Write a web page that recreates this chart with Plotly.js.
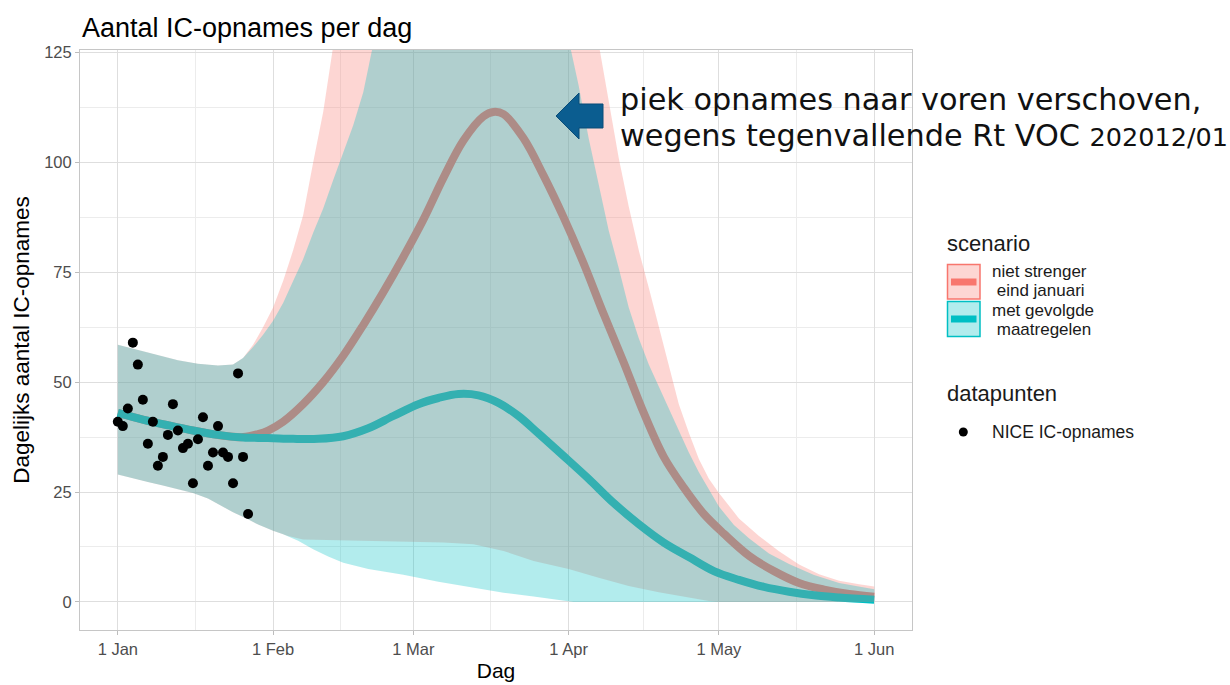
<!DOCTYPE html>
<html>
<head>
<meta charset="utf-8">
<script src="https://cdn.plot.ly/plotly-3.0.1.min.js"></script>
<style>
html,body{margin:0;padding:0;background:#fff;}
#chart{width:1230px;height:685px;}
</style>
</head>
<body>
<div id="chart"></div>
<script>
// ---------------- data ----------------
const pointDates = ['2021-01-01','2021-01-02','2021-01-03','2021-01-04','2021-01-05','2021-01-06','2021-01-07','2021-01-08','2021-01-09','2021-01-10','2021-01-11','2021-01-12','2021-01-13','2021-01-14','2021-01-15','2021-01-16','2021-01-17','2021-01-18','2021-01-19','2021-01-20','2021-01-21','2021-01-22','2021-01-23','2021-01-24','2021-01-25','2021-01-26','2021-01-27'];
const pointValues = [41,40,44,59,54,46,36,41,31,33,38,45,39,35,36,27,37,42,31,34,40,34,33,27,52,33,20];

const tealLineDates = ['2021-01-01','2021-01-06','2021-01-11','2021-01-16','2021-01-21','2021-01-26','2021-01-31','2021-02-05','2021-02-10','2021-02-15','2021-02-20','2021-02-25','2021-03-02','2021-03-06','2021-03-10','2021-03-14','2021-03-18','2021-03-22','2021-03-26','2021-03-31','2021-04-05','2021-04-10','2021-04-15','2021-04-20','2021-04-25','2021-04-30','2021-05-05','2021-05-10','2021-05-15','2021-05-20','2021-05-25','2021-06-01'];
const tealLineValues = [43.0,41.5,40.2,39.0,38.0,37.4,37.3,37.1,37.1,37.7,39.5,42.3,45.0,46.4,47.3,47.0,45.3,42.3,38.3,33.2,28.0,22.5,17.7,13.5,10.2,7.0,5.0,3.4,2.3,1.5,1.0,0.5];

const redLineDates = ['2021-01-01','2021-01-06','2021-01-11','2021-01-16','2021-01-21','2021-01-26','2021-01-29','2021-01-31','2021-02-03','2021-02-07','2021-02-11','2021-02-15','2021-02-19','2021-02-23','2021-02-27','2021-03-03','2021-03-07','2021-03-11','2021-03-15','2021-03-17','2021-03-19','2021-03-23','2021-03-27','2021-03-31','2021-04-04','2021-04-08','2021-04-12','2021-04-16','2021-04-20','2021-04-24','2021-04-28','2021-05-02','2021-05-07','2021-05-12','2021-05-17','2021-05-22','2021-05-27','2021-06-01'];
const redLineValues = [43.0,41.5,40.2,39.0,38.0,37.5,38.2,39.0,41.0,45.0,50.0,56.0,63.0,70.5,78.5,87.0,96.5,105.0,110.5,111.5,111.0,105.5,97.0,87.5,77.0,65.5,54.5,43.0,33.0,26.0,20.0,15.5,10.5,7.0,4.3,2.8,1.8,1.2];

const tealUpperDates = ['2021-01-01','2021-01-05','2021-01-09','2021-01-13','2021-01-17','2021-01-21','2021-01-24','2021-01-26','2021-01-28','2021-01-30','2021-02-01','2021-02-03','2021-02-05','2021-02-07','2021-02-09','2021-02-11','2021-02-13','2021-02-15','2021-02-17','2021-02-19','2021-02-21','2021-02-23','2021-03-30','2021-04-01','2021-04-03','2021-04-05','2021-04-07','2021-04-09','2021-04-11','2021-04-13','2021-04-15','2021-04-17','2021-04-19','2021-04-21','2021-04-23','2021-04-25','2021-04-27','2021-04-29','2021-05-01','2021-05-04','2021-05-07','2021-05-11','2021-05-15','2021-05-20','2021-05-25','2021-06-01'];
const tealUpperValues = [58.5,57.3,56.2,55.0,54.2,53.8,54.0,55.5,58.0,60.8,64.0,68.0,73.0,78.0,84.0,89.5,96.0,102.5,108.5,116.0,127.0,140,140,128.0,117.5,105.5,95.0,84.5,76.0,67.0,60.0,54.0,49.0,44.0,39.2,34.0,29.5,25.5,21.7,17.5,14.5,11.0,8.6,6.1,4.3,2.9];

const redUpperDates = ['2021-01-01','2021-01-05','2021-01-09','2021-01-13','2021-01-17','2021-01-21','2021-01-24','2021-01-26','2021-01-28','2021-01-30','2021-02-01','2021-02-03','2021-02-05','2021-02-07','2021-02-09','2021-02-11','2021-02-13','2021-02-15','2021-04-05','2021-04-07','2021-04-09','2021-04-11','2021-04-13','2021-04-15','2021-04-17','2021-04-19','2021-04-21','2021-04-23','2021-04-25','2021-04-27','2021-04-29','2021-05-01','2021-05-05','2021-05-09','2021-05-13','2021-05-17','2021-05-21','2021-05-25','2021-05-29','2021-06-01'];
const redUpperValues = [58.5,57.3,56.2,55.0,54.2,53.8,54.0,55.5,58.5,62.5,67.0,73.0,80.0,88.0,100.0,111.5,126.5,140,140,127.0,114.0,101.0,90.0,80.0,71.5,62.5,54.0,45.0,38.5,32.5,28.0,24.8,19.0,15.0,11.5,8.5,6.3,4.8,4.0,3.5];

const tealLowerDates = ['2021-01-01','2021-01-04','2021-01-07','2021-01-10','2021-01-13','2021-01-16','2021-01-19','2021-01-21','2021-01-24','2021-01-27','2021-01-29','2021-02-01','2021-02-03','2021-02-06','2021-02-09','2021-02-12','2021-02-15','2021-02-20','2021-02-27','2021-03-06','2021-03-13','2021-03-19','2021-03-25','2021-03-31','2021-04-02','2021-06-01'];
const tealLowerValues = [29.0,28.1,27.3,26.5,25.7,24.8,23.5,22.2,20.4,18.8,17.6,16.2,15.4,13.9,12.0,10.3,8.9,7.5,6.2,4.6,3.3,2.1,1.2,0.4,0,0];

const redLowerDates = ['2021-01-01','2021-01-04','2021-01-07','2021-01-10','2021-01-13','2021-01-16','2021-01-19','2021-01-21','2021-01-24','2021-01-27','2021-01-29','2021-02-01','2021-02-04','2021-02-07','2021-02-15','2021-02-25','2021-03-07','2021-03-13','2021-03-19','2021-03-25','2021-04-01','2021-04-07','2021-04-13','2021-04-19','2021-04-24','2021-04-29','2021-05-01','2021-06-01'];
const redLowerValues = [29.0,28.1,27.3,26.5,25.7,24.8,23.5,22.2,20.4,18.8,17.6,16.2,15.0,14.2,14.0,13.8,13.5,13.1,11.6,9.3,7.5,5.5,3.6,2.2,1.2,0.2,0,0];

const xTickVals = ['2021-01-01','2021-02-01','2021-03-01','2021-04-01','2021-05-01','2021-06-01'];
const xTickText = ['1 Jan','1 Feb','1 Mar','1 Apr','1 May','1 Jun'];
const xMinorVals = ['2021-01-16 12:00','2021-02-14 12:00','2021-03-16 12:00','2021-04-16','2021-05-16 12:00'];
const yTickVals = [0,25,50,75,100,125];
const yMinorVals = [12.5,37.5,62.5,87.5,112.5];

const scenarioNames = ['niet strenger', ' eind januari', 'met gevolgde', ' maatregelen'];
const pointName = 'NICE IC-opnames';

// ---------------- styling ----------------
const RED = '#F8766D', TEAL = '#00BFC4';
const RED_FILL = 'rgba(248,118,109,0.3)', TEAL_FILL = 'rgba(0,191,196,0.3)';
const FONT = 'Liberation Sans, Arial, sans-serif';

const L = 80, R = 912, T = 50, B = 630;
const PX = x => (x - L) / (R - L);
const PY = y => (B - y) / (B - T);

const traces = [
  {x: redLineDates, y: redLineValues, mode: 'lines', line: {color: RED, width: 8, shape: 'spline'}, hoverinfo: 'skip', showlegend: false},
  {x: tealLineDates, y: tealLineValues, mode: 'lines', line: {color: TEAL, width: 8, shape: 'spline'}, hoverinfo: 'skip', showlegend: false},
  {x: redLowerDates, y: redLowerValues, mode: 'lines', line: {width: 0, color: RED}, hoverinfo: 'skip', showlegend: false},
  {x: redUpperDates, y: redUpperValues, mode: 'lines', line: {width: 0, color: RED}, fill: 'tonexty', fillcolor: RED_FILL, hoverinfo: 'skip', showlegend: false},
  {x: tealLowerDates, y: tealLowerValues, mode: 'lines', line: {width: 0, color: TEAL}, hoverinfo: 'skip', showlegend: false},
  {x: tealUpperDates, y: tealUpperValues, mode: 'lines', line: {width: 0, color: TEAL}, fill: 'tonexty', fillcolor: TEAL_FILL, hoverinfo: 'skip', showlegend: false},
  {x: pointDates, y: pointValues, mode: 'markers', marker: {color: '#000', size: 10}, name: pointName, showlegend: false}
];

const legendFont = {family: FONT, size: 17, color: '#1a1a1a'};
const legendTitleFont = {family: FONT, size: 22, color: '#1a1a1a'};

const annotations = [
  {xref: 'paper', yref: 'paper', x: PX(945), y: PY(243), xanchor: 'left', yanchor: 'middle', text: 'scenario', showarrow: false, font: legendTitleFont},
  {xref: 'paper', yref: 'paper', x: PX(990), y: PY(271), xanchor: 'left', yanchor: 'middle', text: scenarioNames[0], showarrow: false, font: legendFont},
  {xref: 'paper', yref: 'paper', x: PX(990), y: PY(290), xanchor: 'left', yanchor: 'middle', text: scenarioNames[1], showarrow: false, font: legendFont},
  {xref: 'paper', yref: 'paper', x: PX(990), y: PY(310), xanchor: 'left', yanchor: 'middle', text: scenarioNames[2], showarrow: false, font: legendFont},
  {xref: 'paper', yref: 'paper', x: PX(990), y: PY(329), xanchor: 'left', yanchor: 'middle', text: scenarioNames[3], showarrow: false, font: legendFont},
  {xref: 'paper', yref: 'paper', x: PX(945), y: PY(393), xanchor: 'left', yanchor: 'middle', text: 'datapunten', showarrow: false, font: legendTitleFont},
  {xref: 'paper', yref: 'paper', x: PX(990), y: PY(432), xanchor: 'left', yanchor: 'middle', text: pointName, showarrow: false, font: {family: FONT, size: 17.5, color: '#1a1a1a'}},
  {xref: 'paper', yref: 'paper', x: PX(618), y: PY(100), xanchor: 'left', yanchor: 'middle', text: 'piek opnames naar voren verschoven,', showarrow: false, font: {family: 'DejaVu Sans', size: 30.3, color: '#111'}},
  {xref: 'paper', yref: 'paper', x: PX(618), y: PY(135), xanchor: 'left', yanchor: 'middle', text: 'wegens tegenvallende Rt VOC <span style="font-size:25.5px">202012/01</span>', showarrow: false, font: {family: 'DejaVu Sans', size: 30.3, color: '#111'}}
];

const arrowPts = [[556,116],[579,93],[579,104],[603,104],[603,128],[579,128],[579,139]];
const arrowPath = 'M' + arrowPts.map(p => PX(p[0]).toFixed(5) + ',' + PY(p[1]).toFixed(5)).join('L') + 'Z';

const shapes = [
  {type: 'path', xref: 'paper', yref: 'paper', path: arrowPath, fillcolor: '#0b5d90', line: {color: '#0a4d78', width: 1}},
  {type: 'rect', xref: 'paper', yref: 'paper', x0: PX(947.5), x1: PX(980), y0: PY(299), y1: PY(264.5), fillcolor: RED_FILL, line: {color: RED, width: 1.5}},
  {type: 'line', xref: 'paper', yref: 'paper', x0: PX(951), x1: PX(976.5), y0: PY(282), y1: PY(282), line: {color: RED, width: 7}},
  {type: 'rect', xref: 'paper', yref: 'paper', x0: PX(947.5), x1: PX(980), y0: PY(336.5), y1: PY(301.5), fillcolor: TEAL_FILL, line: {color: TEAL, width: 1.5}},
  {type: 'line', xref: 'paper', yref: 'paper', x0: PX(951), x1: PX(976.5), y0: PY(319), y1: PY(319), line: {color: TEAL, width: 7}},
  {type: 'circle', xref: 'paper', yref: 'paper', x0: PX(958.8), x1: PX(967.8), y0: PY(436.5), y1: PY(427.5), fillcolor: '#000', line: {width: 0}}
];

const axisCommon = {
  showline: true, mirror: true, linecolor: '#c6c6c6', linewidth: 1,
  ticks: 'outside', ticklen: 4, tickwidth: 1, tickcolor: '#bdbdbd',
  showgrid: true, gridcolor: '#dedede', gridwidth: 1, zeroline: false,
  tickfont: {family: FONT, size: 16.5, color: '#4d4d4d'},
  automargin: false, fixedrange: true
};

const layout = {
  width: 1230, height: 685,
  margin: {l: L, r: 1230 - R, t: T, b: 685 - B},
  paper_bgcolor: '#fff', plot_bgcolor: '#fff',
  font: {family: FONT, color: '#000'},
  title: {text: 'Aantal IC-opnames per dag', xref: 'paper', x: 0, xanchor: 'left', yref: 'container', y: 1 - 28/685, yanchor: 'middle', pad: {l: 2}, font: {family: FONT, size: 27, color: '#000'}},
  xaxis: Object.assign({}, axisCommon, {
    type: 'date', range: ['2020-12-24 10:48', '2021-06-08 13:12'],
    tickmode: 'array', tickvals: xTickVals, ticktext: xTickText,
    minor: {tickmode: 'array', tickvals: xMinorVals, showgrid: true, gridcolor: '#ececec', gridwidth: 1, ticks: ''},
    title: {text: 'Dag', font: {family: FONT, size: 21, color: '#000'}, standoff: 6}
  }),
  yaxis: Object.assign({}, axisCommon, {
    range: [-6.4, 125.6],
    tickmode: 'array', tickvals: yTickVals, ticktext: yTickVals.map(String),
    minor: {tickmode: 'array', tickvals: yMinorVals, showgrid: true, gridcolor: '#ececec', gridwidth: 1, ticks: ''},
    title: {text: 'Dagelijks aantal IC-opnames', font: {family: FONT, size: 22.5, color: '#000'}, standoff: 8}
  }),
  showlegend: false,
  annotations: annotations,
  shapes: shapes,
  hovermode: false
};

Plotly.newPlot('chart', traces, layout, {displayModeBar: false, staticPlot: true});
</script>
</body>
</html>
